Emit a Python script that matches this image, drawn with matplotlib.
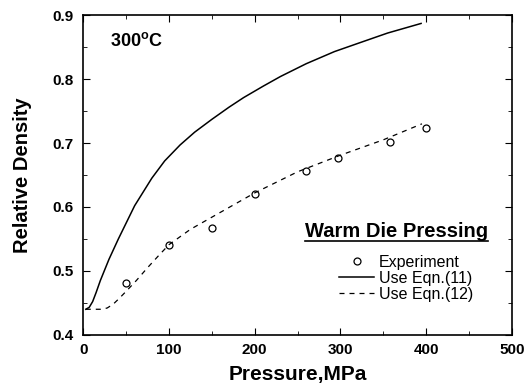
import matplotlib.pyplot as plt
from matplotlib.ticker import MultipleLocator

plt.rcParams['font.family'] = ['Liberation Sans', 'DejaVu Sans']

# experiment points
exp_p = [50, 100, 150, 200, 260, 297, 358, 400]
exp_d = [0.481, 0.541, 0.567, 0.621, 0.657, 0.677, 0.702, 0.723]

# model curves
eq11_p = [3, 7, 11, 15, 20, 30, 41, 60, 80, 95, 113, 130, 150, 170, 187, 210, 230, 260, 293, 325, 355, 394]
eq11_d = [0.440, 0.443, 0.452, 0.466, 0.485, 0.518, 0.550, 0.602, 0.645, 0.672, 0.697, 0.717, 0.737, 0.756,
          0.771, 0.789, 0.804, 0.824, 0.843, 0.858, 0.872, 0.887]

eq12_p = [3, 22, 28, 35, 42, 50, 62, 75, 88, 100, 125, 150, 175, 200, 250, 300, 350, 395]
eq12_d = [0.440, 0.440, 0.442, 0.448, 0.457, 0.468, 0.485, 0.505, 0.524, 0.541, 0.565, 0.584, 0.603, 0.622,
          0.655, 0.681, 0.705, 0.730]

fig = plt.figure(figsize=(5.3, 3.88), dpi=100)
ax = fig.add_axes([0.157, 0.137, 0.809, 0.824])

ax.plot(exp_p, exp_d, 'o', ms=5, mfc='white', mec='black', mew=0.9, label='Experiment')
ax.plot(eq11_p, eq11_d, '-', color='black', lw=1.1, label='Use Eqn.(11)')
ax.plot(eq12_p, eq12_d, '--', color='black', lw=0.9, dashes=(4, 4), label='Use Eqn.(12)')

ax.set_xlim(0, 500)
ax.set_ylim(0.4, 0.9)
ax.xaxis.set_major_locator(MultipleLocator(100))
ax.xaxis.set_minor_locator(MultipleLocator(50))
ax.yaxis.set_major_locator(MultipleLocator(0.1))
ax.yaxis.set_minor_locator(MultipleLocator(0.05))
ax.tick_params(which='both', direction='in', top=True, right=True)
ax.tick_params(which='major', length=5, labelsize=11)
ax.tick_params(which='minor', length=3)
ax.tick_params(axis='x', which='major', pad=6)
ax.tick_params(axis='y', which='major', pad=7)
for lab in ax.get_xticklabels() + ax.get_yticklabels():
    lab.set_fontweight('bold')
for s in ax.spines.values():
    s.set_linewidth(1.2)

ax.set_xlabel('Pressure,MPa', fontsize=15, fontweight='bold', va='center')
ax.set_ylabel('Relative Density', fontsize=14.5, fontweight='bold', va='center')
ax.xaxis.set_label_coords(0.5, -0.125)
ax.yaxis.set_label_coords(-0.142, 0.5)

ax.text(0.063, 0.92, '300$^\\mathregular{o}$C', transform=ax.transAxes,
        fontsize=13, fontweight='bold', va='center')

ax.text(0.73, 0.322, 'Warm Die Pressing', transform=ax.transAxes,
        fontsize=14.5, fontweight='bold', ha='center', va='center')
ax.plot([0.517, 0.944], [0.292, 0.292], color='black', lw=1.2, transform=ax.transAxes)

ax.legend(loc='upper left', bbox_to_anchor=(0.578, 0.275), frameon=False,
          fontsize=11.5, handlelength=2.2, handletextpad=0.3, labelspacing=0.05,
          borderpad=0, markerfirst=True)

fig.savefig('out.png', dpi=100)
